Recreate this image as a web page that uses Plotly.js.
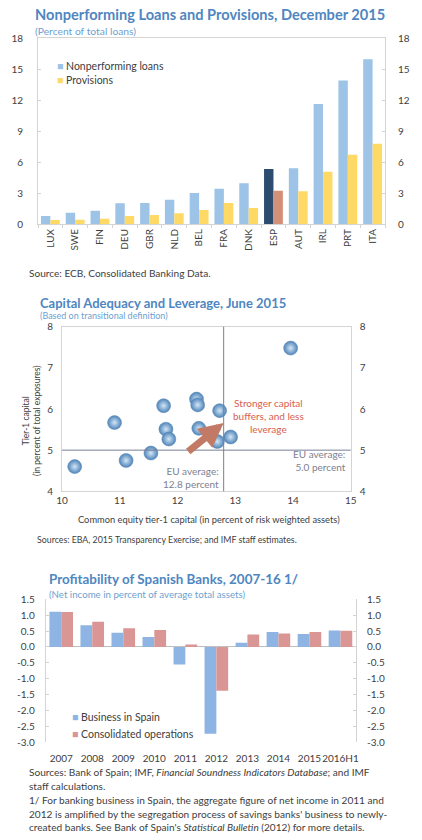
<!DOCTYPE html>
<html><head><meta charset="utf-8">
<script src="https://cdn.plot.ly/plotly-3.0.1.min.js"></script>
<style>html,body{margin:0;padding:0;background:#fff}#c{width:422px;height:840px}</style>
</head><body><div id="c"></div>
<script>
// Panel 1 data
const countries = ['LUX','SWE','FIN','DEU','GBR','NLD','BEL','FRA','DNK','ESP','AUT','IRL','PRT','ITA'];
const npl = [0.78,1.1,1.29,2.0,2.03,2.36,3.0,3.42,3.94,5.33,5.4,11.63,13.92,15.96];
const provisions = [0.39,0.4,0.52,0.78,0.87,1.03,1.36,2.03,1.55,3.23,3.17,5.07,6.72,7.78];
const p1Ticks = [0,3,6,9,12,15,18];
// Panel 2 data
const cet1 = [13.96,11.76,12.33,12.35,12.73,10.91,11.8,11.85,12.37,12.69,12.92,11.54,11.11,10.22];
const tier1Lev = [7.48,6.08,6.24,6.1,5.96,5.67,5.51,5.27,5.53,5.21,5.32,4.93,4.75,4.6];
const euAvgCet1 = 12.8;
const euAvgLev = 5.0;
// Panel 3 data
const years = ['2007','2008','2009','2010','2011','2012','2013','2014','2015','2016H1'];
const businessSpain = [1.11,0.68,0.45,0.31,-0.55,-2.73,0.13,0.47,0.41,0.52];
const consolidated = [1.1,0.79,0.59,0.53,0.08,-1.38,0.39,0.42,0.47,0.51];
const p3TickVals = [1.5,1.0,0.5,0.0,-0.5,-1.0,-1.5,-2.0,-2.5,-3.0];
const p3TickText = ['1.5','1.0','0.5','0.0','-0.5','-1.0','-1.5','-2.0','-2.5','-3.0'];

const W=422,H=840;
const px=x=>x/W, py=y=>1-y/H;
const FONT='Lato';
const txt='#404040', titleC='#4f86bf', subC='#6e9fd0', frame='#d4d4d4';
const C_NPL='#9dc3e6', C_PROV='#ffd966', C_ESP1='#2c4d70', C_ESP2='#d38f78', C_BUS='#8db4e2', C_CONS='#da9694';

const traces=[
 {type:'bar',x:countries,y:npl,name:'Nonperforming loans',xaxis:'x',yaxis:'y',showlegend:false,
  marker:{color:countries.map(c=>c==='ESP'?C_ESP1:C_NPL)}},
 {type:'bar',x:countries,y:provisions,name:'Provisions',xaxis:'x',yaxis:'y',showlegend:false,
  marker:{color:countries.map(c=>c==='ESP'?C_ESP2:C_PROV)}},
 {type:'scatter',mode:'none',x:countries,y:npl,xaxis:'x',yaxis:'y2',showlegend:false,hoverinfo:'skip'},
 {type:'scatter',mode:'markers',x:cet1,y:tier1Lev,xaxis:'x2',yaxis:'y3',showlegend:false,
  marker:{size:14,color:'#4e83b8',gradient:{type:'radial',color:'#d2e6f7'},line:{color:'#5b88b5',width:0.5}}},
 {type:'scatter',mode:'none',x:cet1,y:tier1Lev,xaxis:'x2',yaxis:'y4',showlegend:false,hoverinfo:'skip'},
 {type:'bar',x:years,y:businessSpain,name:'Business in Spain',xaxis:'x3',yaxis:'y5',showlegend:false,
  marker:{color:C_BUS}},
 {type:'bar',x:years,y:consolidated,name:'Consolidated operations',xaxis:'x3',yaxis:'y5',showlegend:false,
  marker:{color:C_CONS}},
 {type:'scatter',mode:'none',x:years,y:consolidated,xaxis:'x3',yaxis:'y6',showlegend:false,hoverinfo:'skip'}
];

const tf={family:FONT,size:10,color:txt};
const layout={
 width:W,height:H,margin:{l:0,r:0,t:0,b:0},paper_bgcolor:'#fff',plot_bgcolor:'#fff',
 font:{family:FONT,size:10,color:txt},barmode:'group',showlegend:false,
 xaxis:{domain:[px(38),px(385)],anchor:'y',type:'category',tickangle:-90,tickfont:tf,
  showline:true,linecolor:frame,mirror:true,ticks:'outside',tickson:'boundaries',ticklen:3,tickcolor:frame,fixedrange:true},
 yaxis:{domain:[py(224),py(38.3)],anchor:'x',range:[0,18],tickvals:p1Ticks,showgrid:false,zeroline:false,
  showline:true,linecolor:frame,tickfont:tf,ticks:'inside',ticklen:3,tickcolor:frame,ticklabelstandoff:12},
 yaxis2:{overlaying:'y',anchor:'x',side:'right',range:[0,18],tickvals:p1Ticks,showgrid:false,zeroline:false,
  showline:true,linecolor:frame,tickfont:tf,ticks:'inside',ticklen:3,tickcolor:frame,ticklabelstandoff:10},
 xaxis2:{domain:[px(62),px(350.7)],anchor:'y3',range:[10,15],dtick:1,showgrid:false,zeroline:false,
  showline:true,linecolor:frame,mirror:true,tickfont:tf,ticks:''},
 yaxis3:{domain:[py(491.3),py(326.7)],anchor:'x2',range:[4,8],dtick:1,showgrid:false,zeroline:false,
  showline:true,linecolor:frame,mirror:true,tickfont:tf,ticks:'',ticklabelstandoff:6},
 yaxis4:{overlaying:'y3',anchor:'x2',side:'right',range:[4,8],dtick:1,showgrid:false,zeroline:false,
  tickfont:tf,ticks:'',ticklabelstandoff:8},
 xaxis3:{domain:[px(45.7),px(356)],anchor:'y5',type:'category',showline:false,tickfont:tf,tickangle:0,ticks:'',ticklabelstandoff:9},
 yaxis5:{domain:[py(742.3),py(599.3)],anchor:'x3',range:[-3,1.5],tickvals:p3TickVals,ticktext:p3TickText,showgrid:false,
  zeroline:true,zerolinecolor:'#bfbfbf',zerolinewidth:1,showline:true,linecolor:frame,mirror:true,tickfont:tf,
  ticks:'inside',ticklen:3,tickcolor:frame,ticklabelstandoff:8},
 yaxis6:{overlaying:'y5',anchor:'x3',side:'right',range:[-3,1.5],tickvals:p3TickVals,ticktext:p3TickText,showgrid:false,
  zeroline:false,tickfont:tf,ticks:'inside',ticklen:3,tickcolor:frame,ticklabelstandoff:10},
 bargap:0.24,bargroupgap:0,
 shapes:[
  {type:'line',xref:'x2',yref:'y3 domain',x0:euAvgCet1,x1:euAvgCet1,y0:0,y1:1,line:{color:'#7a7f96',width:1}},
  {type:'line',xref:'x2 domain',yref:'y3',x0:0,x1:1,y0:euAvgLev,y1:euAvgLev,line:{color:'#7a7f96',width:1}}
 ],
 annotations:[]
};
const A=layout.annotations;
function note(x,y,text,opt){A.push(Object.assign({xref:'paper',yref:'paper',x:px(x),y:py(y),text:text,showarrow:false,
 xanchor:'left',yanchor:'middle',align:'left',font:{family:FONT,size:10,color:txt}},opt||{}));}
const sq=(c)=>'<span style="color:'+c+'">■</span>';
// Panel 1 texts
note(33,14,'<b>Nonperforming Loans and Provisions, December 2015</b>',{font:{family:FONT,size:14.6,color:titleC}});
note(33,31,'(Percent of total loans)',{font:{family:FONT,size:10.3,color:subC}});
note(55,66,sq(C_NPL)+' Nonperforming loans',{font:{family:FONT,size:10.5,color:txt}});
note(55,80,sq(C_PROV)+' Provisions',{font:{family:FONT,size:10.5,color:txt}});
note(27,273,'Source: ECB, Consolidated Banking Data.',{font:{family:FONT,size:10.1,color:txt}});
// Panel 2 texts
note(38,302.5,'<b>Capital Adequacy and Leverage, June 2015</b>',{font:{family:FONT,size:13,color:titleC}});
note(38,315.5,'(Based on transitional definition)',{font:{family:FONT,size:9,color:subC}});
note(209,519,'Common equity tier-1 capital (in percent of risk weighted assets)',{xanchor:'center',font:{family:FONT,size:9.3,color:txt}});
note(31,420,'Tier-1 capital<br>(in percent of total exposures)',{xanchor:'center',textangle:-90,align:'center',font:{family:FONT,size:8.5,color:txt}});
note(35,539,'Sources: EBA, 2015 Transparency Exercise; and IMF staff estimates.',{font:{family:FONT,size:8.8,color:txt}});
A.push({xref:'x2',yref:'y3',x:13.58,y:5.83,text:'Stronger capital<br>buffers, and less<br>leverage',showarrow:false,align:'center',
 font:{family:FONT,size:10,color:'#d9604f'}});
A.push({xref:'x2',yref:'y3',x:14.95,y:4.74,text:'EU average:<br>5.0 percent',showarrow:false,xanchor:'right',align:'right',
 font:{family:FONT,size:10,color:'#808090'}});
A.push({xref:'x2',yref:'y3',x:12.76,y:4.33,text:'EU average:<br>12.8 percent',showarrow:false,xanchor:'right',align:'right',
 font:{family:FONT,size:10,color:'#808090'}});
A.push({xref:'x2',yref:'y3',axref:'x2',ayref:'y3',x:12.8,y:5.66,ax:12.16,ay:4.94,text:'',showarrow:true,
 arrowhead:2,arrowsize:0.7,arrowwidth:7,arrowcolor:'#c27a66'});
// Panel 3 texts
note(47,579,'<b>Profitability of Spanish Banks, 2007-16 1/</b>',{font:{family:FONT,size:13.4,color:titleC}});
note(47,594,'(Net income in percent of average total assets)',{font:{family:FONT,size:9.7,color:subC}});
note(70,717,sq(C_BUS)+' Business in Spain',{font:{family:FONT,size:10.5,color:txt}});
note(70,734,sq(C_CONS)+' Consolidated operations',{font:{family:FONT,size:10.5,color:txt}});
const foot=['Sources: Bank of Spain; IMF, <i>Financial Soundness Indicators Database</i>; and IMF',
 'staff calculations.',
 '1/ For banking business in Spain, the aggregate figure of net income in 2011 and',
 "2012 is amplified by the segregation process of savings banks' business to newly-",
 "created banks. See Bank of Spain's <i>Statistical Bulletin</i> (2012) for more details."];
const fy=[772,786,800,814,827];
foot.forEach((t,i)=>note(27,fy[i],t,{font:{family:FONT,size:10.1,color:txt}}));

Plotly.newPlot('c',traces,layout,{staticPlot:true});
</script></body></html>
